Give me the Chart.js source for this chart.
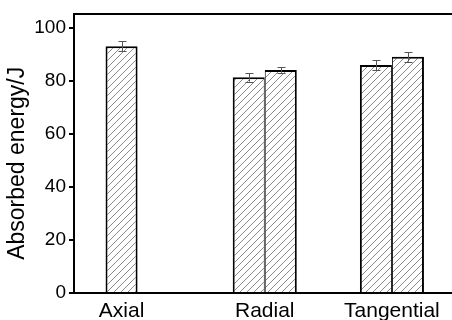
<!DOCTYPE html>
<html>
<head>
<meta charset="utf-8">
<script src="https://cdn.jsdelivr.net/npm/chart.js@4/dist/chart.umd.min.js"></script>
<style>
html,body{margin:0;padding:0;overflow:hidden;background:#fff;width:452px;height:320px;}
#wrap{width:460px;height:320px;}
</style>
</head>
<body>
<div id="wrap"><canvas id="c" width="460" height="320"></canvas></div>
<script>
const categories = ['Axial', 'Radial', 'Tangential'];
const seriesA = [93.0, 81.3, 85.9];
const seriesB = [null, 84.0, 89.0];
const errA = [1.9, 1.6, 1.9];
const errB = [null, 1.0, 1.8];
const yTicks = [0, 20, 40, 60, 80, 100];

const FONT = 'Arial, "Liberation Sans", sans-serif';
const CAT_PCT = 0.504;

const canvas = document.getElementById('c');
const ctx = canvas.getContext('2d');

function makeHatch() {
  const s = 7;
  const c = document.createElement('canvas');
  c.width = s; c.height = s;
  const g = c.getContext('2d');
  g.fillStyle = '#fff';
  g.fillRect(0, 0, s, s);
  g.strokeStyle = '#8a8a8a';
  g.lineWidth = 1;
  g.beginPath();
  g.moveTo(0, s); g.lineTo(s, 0);
  g.moveTo(-1, 1); g.lineTo(1, -1);
  g.moveTo(s - 1, s + 1); g.lineTo(s + 1, s - 1);
  g.stroke();
  return ctx.createPattern(c, 'repeat');
}
const hatch = makeHatch();

// label positions: centre of the bars that exist in each category
const series = [seriesA, seriesB];
const labelPos = categories.map((c, i) => {
  const n = series.length;
  const offs = [];
  series.forEach((s, j) => { if (s[i] != null) offs.push((j - (n - 1) / 2) * CAT_PCT / n); });
  return i + offs.reduce((a, b) => a + b, 0) / offs.length;
});

const errorBars = {
  id: 'errorBars',
  afterDatasetsDraw(chart) {
    const c = chart.ctx;
    const y = chart.scales.y;
    [errA, errB].forEach((errs, di) => {
      const meta = chart.getDatasetMeta(di);
      meta.data.forEach((bar, i) => {
        const v = chart.data.datasets[di].data[i];
        const e = errs[i];
        if (v == null || e == null) return;
        const x = Math.round(bar.x) + 0.5;
        const yt = y.getPixelForValue(v + e);
        const yb = y.getPixelForValue(v - e);
        c.save();
        c.strokeStyle = '#555';
        c.lineWidth = 1;
        c.beginPath();
        c.moveTo(x, yt); c.lineTo(x, yb);
        c.moveTo(x - 4, Math.round(yt) + 0.5); c.lineTo(x + 4, Math.round(yt) + 0.5);
        c.moveTo(x - 4, Math.round(yb) + 0.5); c.lineTo(x + 4, Math.round(yb) + 0.5);
        c.stroke();
        c.restore();
      });
    });
  }
};

new Chart(ctx, {
  type: 'bar',
  data: {
    labels: categories,
    datasets: [
      {
        data: seriesA,
        backgroundColor: hatch,
        borderColor: '#000',
        borderSkipped: false,
        borderWidth: (c) => ({top: 2, left: 2, bottom: 0, right: seriesB[c.dataIndex] != null ? 1 : 2}),
        barPercentage: 1,
        categoryPercentage: CAT_PCT
      },
      {
        data: seriesB,
        backgroundColor: hatch,
        borderColor: '#000',
        borderSkipped: false,
        borderWidth: (c) => ({top: 2, right: 2, bottom: 0, left: seriesA[c.dataIndex] != null ? 1 : 2}),
        barPercentage: 1,
        categoryPercentage: CAT_PCT
      }
    ]
  },
  options: {
    responsive: false,
    animation: false,
    devicePixelRatio: 1,
    layout: {padding: {top: 5, right: 4.5, left: 0, bottom: 0}},
    plugins: {legend: {display: false}, tooltip: {enabled: false}},
    scales: {
      x: {
        type: 'category',
        display: false,
        offset: true
      },
      xl: {
        type: 'linear',
        position: 'bottom',
        offset: false,
        min: -0.5,
        max: 2.5,
        grid: {display: false, offset: false},
        border: {display: true, color: '#000', width: 2},
        afterBuildTicks: (s) => { s.ticks = labelPos.map(v => ({value: v})); },
        afterFit: (s) => { s.height = 27; },
        ticks: {
          autoSkip: false,
          maxRotation: 0,
          padding: -2,
          color: '#000',
          font: {family: FONT, size: 21},
          callback: (v, idx) => categories[idx]
        }
      },
      xt: {
        type: 'linear',
        position: 'top',
        offset: false,
        min: 0,
        max: 1,
        grid: {display: false},
        ticks: {display: false},
        border: {display: true, color: '#000', width: 2},
        afterFit: (s) => { s.height = 0; }
      },
      y: {
        type: 'linear',
        min: 0,
        max: 105,
        afterBuildTicks: (s) => { s.ticks = yTicks.map(v => ({value: v})); },
        afterFit: (s) => { s.width = 74; },
        grid: {display: true, drawOnChartArea: false, drawTicks: true, tickLength: 5, color: '#000', lineWidth: 2},
        border: {display: true, color: '#000', width: 2},
        ticks: {
          padding: 3,
          color: '#000',
          font: {family: FONT, size: 19}
        },
        title: {
          display: true,
          text: 'Absorbed energy/J\u00a0\u00a0\u00a0',
          color: '#000',
          font: {family: FONT, size: 23},
          padding: {top: 4, bottom: 0}
        }
      }
    }
  },
  plugins: [errorBars]
});
</script>
</body>
</html>
